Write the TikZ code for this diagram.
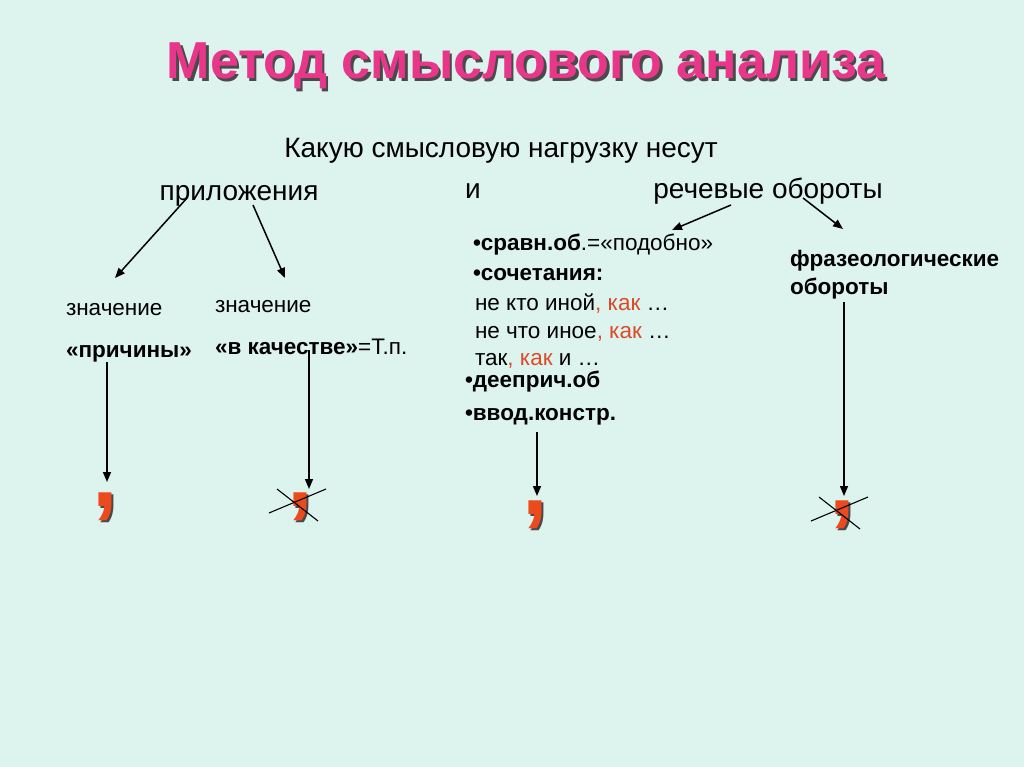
\documentclass[tikz,border=0pt]{standalone}
\usepackage{fontspec}
\setmainfont{Liberation Sans}
\usetikzlibrary{arrows.meta}
\definecolor{bg}{HTML}{DDF4EE}
\definecolor{titlepink}{HTML}{E8378A}
\definecolor{shadowgray}{HTML}{4A4A4A}
\definecolor{commared}{HTML}{EA4A1C}
\definecolor{kakred}{HTML}{DC4A2A}
\newcommand{\shadowed}[3]{\makebox[0pt][l]{\kern#3\raisebox{-#3}{\textcolor{shadowgray}{#1}}}\textcolor{#2}{#1}}
\begin{document}
\begin{tikzpicture}[x=1pt,y=-1pt,
  every node/.style={inner sep=0pt, outer sep=0pt},
  titletxt/.style={anchor=base, font=\fontsize{52}{58}\selectfont\bfseries},
  bigtxt/.style={anchor=base, font=\fontsize{28}{32}\selectfont},
  smalltxt/.style={anchor=base west, font=\fontsize{22.5}{26}\selectfont},
  commatxt/.style={anchor=base, font=\fontsize{92}{100}\selectfont\bfseries},
  arr/.style={line width=1.5pt, -{Triangle[length=10pt,width=8pt]}},
  crossline/.style={line width=1.1pt}
]
\fill[bg] (0,0) rectangle (1024,767);
\useasboundingbox (0,0) rectangle (1024,767);

% title with shadow
\node[titletxt] (title) at (526,79) {\shadowed{Метод смыслового анализа}{titlepink}{2.5pt}};

% headings
\node[bigtxt] (q) at (501,158) {Какую смысловую нагрузку несут};
\node[bigtxt] (pril) at (239,201) {приложения};
\node[bigtxt] (and) at (473,199) {и};
\node[bigtxt] (rech) at (768,199) {речевые обороты};

% left side
\node[smalltxt] (zn1) at (66,315) {значение};
\node[smalltxt] (prich) at (66,357) {\bfseries «причины»};
\node[smalltxt] (zn2) at (215,312) {значение};
\node[smalltxt] (kach) at (215,354) {\bfseries «в качестве»\mdseries=Т.п.};

% middle list
\node[smalltxt] (sravn) at (473,250) {\bfseries •сравн.об\mdseries.=«подобно»};
\node[smalltxt] (soch) at (473,280) {\bfseries •сочетания:};
\node[smalltxt] (l1) at (475,310) {не кто иной\textcolor{kakred}{, как} …};
\node[smalltxt] (l2) at (475,338) {не что иное\textcolor{kakred}{, как} …};
\node[smalltxt] (l3) at (475,365) {так\textcolor{kakred}{, как} и …};
\node[smalltxt] (deepr) at (465,387) {\bfseries •дееприч.об};
\node[smalltxt] (vvod) at (465,420) {\bfseries •ввод.констр.};

% right
\node[smalltxt, font=\fontsize{22.5}{26}\selectfont\bfseries] (fraz) at (790,266) {фразеологические};
\node[smalltxt, font=\fontsize{22.5}{26}\selectfont\bfseries] (obor) at (790,294) {обороты};

% commas
\node[commatxt] (c1) at (105,506) {\shadowed{,}{commared}{2pt}};
\node[commatxt] (c2) at (300,506) {\shadowed{,}{commared}{2pt}};
\node[commatxt] (c3) at (535,514) {\shadowed{,}{commared}{2pt}};
\node[commatxt] (c4) at (842,514) {\shadowed{,}{commared}{2pt}};

% arrow coordinates
\coordinate (p1s) at (187,198); \coordinate (p1e) at (115,278);
\coordinate (p2s) at (253,205); \coordinate (p2e) at (285,278);
\coordinate (r1s) at (731,205); \coordinate (r1e) at (672,230);
\coordinate (r2s) at (803,198); \coordinate (r2e) at (843,229);
\coordinate (v1s) at (107,362); \coordinate (v1e) at (107,482);
\coordinate (v2s) at (309,350); \coordinate (v2e) at (309,489);
\coordinate (v3s) at (537,432); \coordinate (v3e) at (537,496);
\coordinate (v4s) at (844,302); \coordinate (v4e) at (844,496);

\draw[arr] (p1s) -- (p1e);
\draw[arr] (p2s) -- (p2e);
\draw[arr] (r1s) -- (r1e);
\draw[arr] (r2s) -- (r2e);
\draw[arr] (v1s) -- (v1e);
\draw[arr] (v2s) -- (v2e);
\draw[arr] (v3s) -- (v3e);
\draw[arr] (v4s) -- (v4e);

% crosses
\coordinate (x1a) at (269,513); \coordinate (x1b) at (326,489);
\coordinate (x1c) at (277,489); \coordinate (x1d) at (318,521);
\coordinate (x2a) at (811,521); \coordinate (x2b) at (868,497);
\coordinate (x2c) at (819,497); \coordinate (x2d) at (860,529);
\draw[crossline] (x1a) -- (x1b);
\draw[crossline] (x1c) -- (x1d);
\draw[crossline] (x2a) -- (x2b);
\draw[crossline] (x2c) -- (x2d);
\end{tikzpicture}
\end{document}
